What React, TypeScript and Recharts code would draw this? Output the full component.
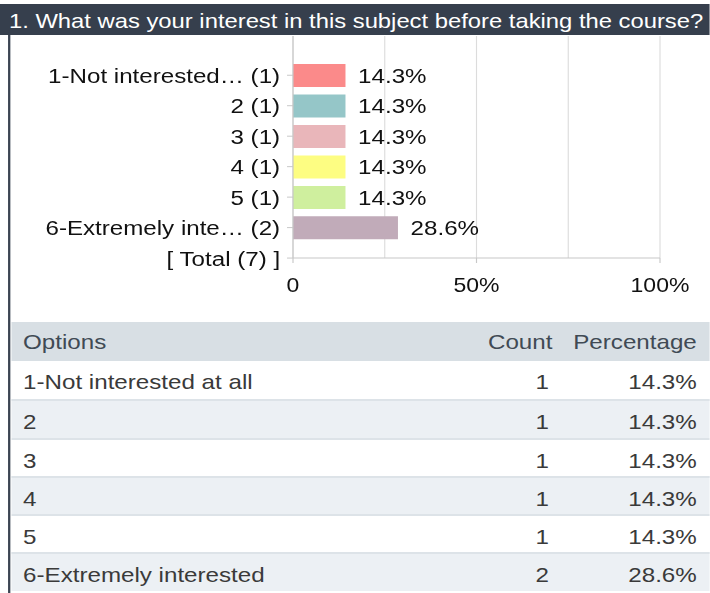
import { Bar, BarChart, CartesianGrid, Cell, LabelList, XAxis, YAxis } from "recharts";

// the source picture is stretched horizontally; lay out in base units and scale back
const STRETCH = 1.15;
const BASE_W = 710 / STRETCH;
const FONT = "Arial, 'Liberation Sans', Helvetica, sans-serif";

const title = "1. What was your interest in this subject before taking the course?";

const categories = [
  "1-Not interested… (1)",
  "2 (1)",
  "3 (1)",
  "4 (1)",
  "5 (1)",
  "6-Extremely inte… (2)",
  "[ Total (7) ]",
];
const percentages = [14.3, 14.3, 14.3, 14.3, 14.3, 28.6, null];
const barColors = ["#fb8a8a", "#95c6c8", "#e9b6ba", "#fdfd82", "#cfef9e", "#c1abb9"];

const xTicks = [0, 25, 50, 75, 100];
const xTickLabels = ["0", "", "50%", "", "100%"];

const tableOptions = ["1-Not interested at all", "2", "3", "4", "5", "6-Extremely interested"];
const tableCounts = [1, 1, 1, 1, 1, 2];
const tablePercents = ["14.3%", "14.3%", "14.3%", "14.3%", "14.3%", "28.6%"];

const chartData = categories.map((label, i) => ({ label, value: percentages[i] }));

function XTick(props: any) {
  const { x, y, payload } = props;
  const label = xTickLabels[xTicks.indexOf(payload.value)];
  if (!label) return <g />;
  return (
    <g>
      <line x1={x} x2={x} y1={y - 20} y2={y - 15} stroke="#c8c8c8" />
      <text x={x} y={y} dy="0.71em" textAnchor="middle" fontSize={20} fill="#111" fontFamily={FONT}>
        {label}
      </text>
    </g>
  );
}

function Table() {
  const rowH = 38.3;
  const cell = { fontSize: 21, fontFamily: FONT, color: "#3a3a3a" };
  return (
    <div style={{ position: "absolute", left: 11 / STRETCH, top: 322, width: BASE_W - 11 / STRETCH }}>
      <div style={{ display: "flex", height: 39, lineHeight: "39px", background: "#d8dfe4", ...cell, color: "#404a54" }}>
        <span style={{ flex: 1, paddingLeft: 10.5 }}>Options</span>
        <span style={{ width: 80, textAlign: "right" }}>Count</span>
        <span style={{ width: 125.5, textAlign: "right", paddingRight: 11.5 }}>Percentage</span>
      </div>
      {tableOptions.map((opt, i) => (
        <div
          key={opt}
          style={{
            display: "flex",
            height: rowH,
            lineHeight: `${rowH + 3}px`,
            boxSizing: "border-box",
            borderTop: i === 0 ? "none" : "2px solid #dde3e8",
            background: i % 2 === 1 ? "#ecf0f4" : "#ffffff",
            ...cell,
          }}
        >
          <span style={{ flex: 1, paddingLeft: 10.5 }}>{opt}</span>
          <span style={{ width: 77, textAlign: "right" }}>{tableCounts[i]}</span>
          <span style={{ width: 128.5, textAlign: "right", paddingRight: 11.5 }}>{tablePercents[i]}</span>
        </div>
      ))}
    </div>
  );
}

export default function App() {
  return (
    <div style={{ position: "absolute", left: 0, top: 0, width: 710, height: 593, overflow: "hidden", background: "#fff" }}>
      <div
        style={{
          position: "absolute",
          left: 0,
          top: 0,
          width: BASE_W,
          height: 593,
          transform: `scaleX(${STRETCH})`,
          transformOrigin: "0 0",
        }}
      >
        <div
          style={{
            position: "absolute",
            left: 0,
            top: 4,
            width: BASE_W,
            height: 31,
            background: "#363f4d",
            color: "#ffffff",
            fontFamily: FONT,
            fontSize: 20.7,
            lineHeight: "33px",
            paddingLeft: 7.8,
            boxSizing: "border-box",
            whiteSpace: "nowrap",
          }}
        >
          {title}
        </div>
        <div style={{ position: "absolute", left: 7, top: 35, width: 1.8, height: 558, background: "#3b4452" }} />

        <div style={{ position: "absolute", left: 0, top: 35 }}>
          <BarChart
            width={BASE_W}
            height={268}
            data={chartData}
            layout="vertical"
            margin={{ top: 1, right: BASE_W - 660 / STRETCH, left: 293 / STRETCH - 250, bottom: 0 }}
          >
            <CartesianGrid horizontal={false} stroke="#dcdcdc" />
            <XAxis
              type="number"
              domain={[0, 100]}
              ticks={xTicks}
              tick={<XTick />}
              tickLine={false}
              tickSize={0}
              tickMargin={20}
              height={45}
              interval={0}
              stroke="#c8c8c8"
            />
            <YAxis
              type="category"
              dataKey="label"
              width={250}
              padding={{ top: 24, bottom: -15.3 }}
              tickSize={5.2}
              tickMargin={6}
              interval={0}
              stroke="#c8c8c8"
              tick={{ fill: "#111", fontSize: 21, fontFamily: FONT }}
            />
            <Bar dataKey="value" barSize={23} isAnimationActive={false}>
              {chartData.map((d, i) => (
                <Cell key={d.label} fill={barColors[i % barColors.length]} />
              ))}
              <LabelList
                dataKey="value"
                position="right"
                offset={11}
                formatter={(v: any) => (v == null ? "" : `${v}%`)}
                style={{ fill: "#111", fontSize: 21, fontFamily: FONT }}
              />
            </Bar>
          </BarChart>
        </div>

        <Table />
      </div>
    </div>
  );
}
